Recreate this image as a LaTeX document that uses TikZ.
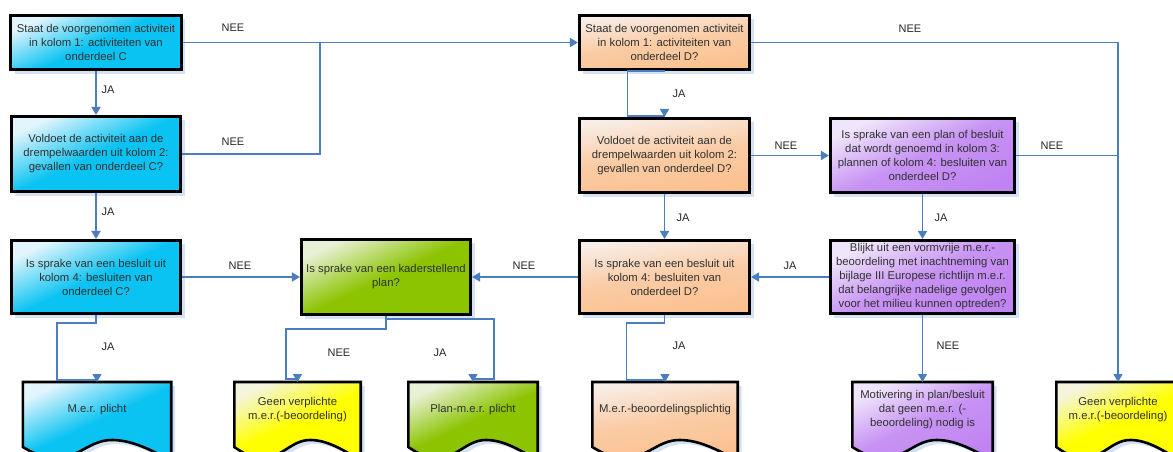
\documentclass[tikz,border=0pt]{standalone}
\usepackage{fontspec}
\setmainfont{Liberation Sans}
\usetikzlibrary{arrows.meta,positioning,shadows,calc,backgrounds}

\definecolor{flowblue}{HTML}{4A7EBF}
\definecolor{shadowblue}{HTML}{D5E2F3}
\definecolor{txtgrey}{HTML}{303030}
\definecolor{cyanlight}{HTML}{E2F5FC}
\definecolor{cyanbase}{HTML}{0BC3F2}
\definecolor{orangelight}{HTML}{F8EEE8}
\definecolor{orangebase}{HTML}{FBC08E}
\definecolor{purplelight}{HTML}{F0E6FB}
\definecolor{purplebase}{HTML}{C084F2}
\definecolor{greenlight}{HTML}{E8F1D6}
\definecolor{greenbase}{HTML}{8CC402}
\definecolor{yellowlight}{HTML}{F4F5DC}
\definecolor{yellowbase}{HTML}{FFFF00}

\tikzset{
  boxshadow/.style={drop shadow={shadow xshift=4pt,shadow yshift=-4pt,fill=shadowblue,opacity=1}},
  box/.style={rectangle,draw=black,line width=2.6pt,align=center,text=txtgrey,inner sep=2pt,
    font=\fontsize{11.3}{14}\selectfont,boxshadow},
  cfill/.style={top color=cyanlight,bottom color=cyanbase,middle color=cyanbase,shading angle=25},
  ofill/.style={top color=orangelight,bottom color=orangebase,middle color=orangebase!75!orangelight,shading angle=8},
  pfill/.style={top color=purplelight,bottom color=purplebase,middle color=purplebase!85!purplelight,shading angle=25},
  gfill/.style={top color=greenlight,bottom color=greenbase,middle color=greenbase,shading angle=25},
  yfill/.style={top color=yellowlight,bottom color=yellowbase,middle color=yellowbase,shading angle=25},
  docnode/.style={rectangle,align=center,text=txtgrey,inner sep=0pt,outer sep=0pt,
    minimum height=56pt,font=\fontsize{11.3}{14}\selectfont},
  docline/.style={draw=black,line width=2.6pt,boxshadow},
  flow/.style={draw=flowblue,line width=1.6pt},
  arr/.style={flow,-{Triangle[width=9pt,length=8pt]}},
  lbl/.style={text=black!85,font=\fontsize{11}{13}\selectfont}
}

% document shape with a wavy bottom, drawn behind its text node
\newcommand{\docbody}[2]{%
  \begin{pgfonlayer}{background}
  \draw[docline,#2] let \p1=(#1.north west),\p2=(#1.north east),\n1={\x2-\x1} in
    (\p1) -- (\p2) -- (\x2,\y1-78)
    .. controls (\x2-0.12*\n1,\y1-70) and (\x2-0.25*\n1,\y1-58) .. (\x1+0.6*\n1,\y1-58)
    .. controls (\x1+0.45*\n1,\y1-58) and (\x1+0.38*\n1,\y1-76) .. (\x1+0.22*\n1,\y1-76)
    .. controls (\x1+0.14*\n1,\y1-76) and (\x1+0.08*\n1,\y1-72) .. (\x1,\y1-65) -- cycle;
  \end{pgfonlayer}}

\begin{document}
\begin{tikzpicture}[x=1pt,y=-1pt]
\path[use as bounding box,clip] (0,0) rectangle (1173,452);

% onderdeel C
\node at (96,42.5)[box,cfill,minimum width=170.5pt,minimum height=54.5pt](c1){Staat de voorgenomen activiteit\\in kolom 1: activiteiten van\\onderdeel C};
\node at (96,154)[box,cfill,minimum width=169.5pt,minimum height=75.5pt](c2){Voldoet de activiteit aan de\\drempelwaarden uit kolom 2:\\gevallen van onderdeel C?};
\node at (96,277)[box,cfill,minimum width=169.5pt,minimum height=73.5pt](c3){Is sprake van een besluit uit\\kolom 4: besluiten van\\onderdeel C?};
\node at (386,277)[box,gfill,minimum width=169.5pt,minimum height=75.5pt](k){Is sprake van een kaderstellend\\plan?};

% onderdeel D
\node at (664.5,42.5)[box,ofill,minimum width=170.5pt,minimum height=54.5pt](d1){Staat de voorgenomen activiteit\\in kolom 1: activiteiten van\\onderdeel D?};
\node at (664.5,155.5)[box,ofill,minimum width=170.5pt,minimum height=74.5pt](d2){Voldoet de activiteit aan de\\drempelwaarden uit kolom 2:\\gevallen van onderdeel D?};
\node at (664.5,277)[box,ofill,minimum width=170.5pt,minimum height=73.5pt](d3){Is sprake van een besluit uit\\kolom 4: besluiten van\\onderdeel D?};
\node at (922.5,155.5)[box,pfill,minimum width=184.5pt,minimum height=74.5pt](p1){Is sprake van een plan of besluit\\dat wordt genoemd in kolom 3:\\plannen of kolom 4: besluiten van\\onderdeel D?};
\node at (922.5,277)[box,pfill,minimum width=184.5pt,minimum height=73.5pt](p2){Blijkt uit een vormvrije m.e.r.-\\beoordeling met inachtneming van\\bijlage III Europese richtlijn m.e.r.\\dat belangrijke nadelige gevolgen\\voor het milieu kunnen optreden?};

% uitkomsten
\node at (97,410)[docnode,minimum width=148.4pt](mer){M.e.r. plicht};
\node at (297.5,410)[docnode,minimum width=126.4pt](geen1){Geen verplichte\\m.e.r.(-beoordeling)};
\node at (473,410)[docnode,minimum width=129.4pt](plan){Plan-m.e.r. plicht};
\node at (665,410)[docnode,minimum width=145.4pt](mbp){M.e.r.-beoordelingsplichtig};
\node at (922.5,410)[docnode,minimum width=140.4pt](mot){Motivering in plan/besluit\\dat geen m.e.r. (-\\beoordeling) nodig is};
\node at (1118,410)[docnode,minimum width=123.4pt](geen2){Geen verplichte\\m.e.r.(-beoordeling)};
\docbody{mer}{cfill}
\docbody{geen1}{yfill}
\docbody{plan}{gfill}
\docbody{mbp}{ofill}
\docbody{mot}{pfill}
\docbody{geen2}{yfill}

\coordinate (jc) at (320,42.5);
\coordinate (jp) at (1118,155.5);

% verbindingen
\draw[arr] (c1.east) -- (d1.west);
\draw[flow] (c2.east) -| (jc);
\draw[arr] (c1.south) -- (c2.north);
\draw[arr] (c2.south) -- (c3.north);
\draw[arr] (c3.east) -- (k.west);
\draw[arr] (c3.south) -- ++(0,8) -| ++(-39,57) -| (mer.north);
\draw[arr] (k.south) -- ++(0,13) -| ++(-100,50) -| (geen1.north);
\draw[arr] (k.south) -- ++(0,3) -| ++(108,60) -| (plan.north);
\draw[arr] (d3.west) -- (k.east);
\draw[arr] (d3.south) -- ++(0,8) -| ++(-38,57) -| (mbp.north);
\draw[arr] (d1.south) -| ++(-37,45) -| (d2.north);
\draw[arr] (d1.east) -| (geen2.north);
\draw[arr] (d2.east) -- (p1.west);
\draw[arr] (d2.south) -- (d3.north);
\draw[flow] (p1.east) -- (jp);
\draw[arr] (p1.south) -- (p2.north);
\draw[arr] (p2.west) -- (d3.east);
\draw[arr] (p2.south) -- (mot.north);

% labels
\node at (233,28)[lbl](nee1){NEE};
\node at (233,142)[lbl](nee2){NEE};
\node at (108,90)[lbl](ja1){JA};
\node at (108,212)[lbl](ja2){JA};
\node at (240,266)[lbl](nee3){NEE};
\node at (108,347)[lbl](ja3){JA};
\node at (339,353)[lbl](nee4){NEE};
\node at (440,353)[lbl](ja4){JA};
\node at (524,266)[lbl](nee5){NEE};
\node at (679,346)[lbl](ja5){JA};
\node at (679,94)[lbl](ja6){JA};
\node at (786,146)[lbl](nee6){NEE};
\node at (683,218)[lbl](ja7){JA};
\node at (910,29)[lbl](nee7){NEE};
\node at (1052,146)[lbl](nee8){NEE};
\node at (941,218)[lbl](ja8){JA};
\node at (790,266)[lbl](ja9){JA};
\node at (948,346)[lbl](nee9){NEE};
\end{tikzpicture}
\end{document}
